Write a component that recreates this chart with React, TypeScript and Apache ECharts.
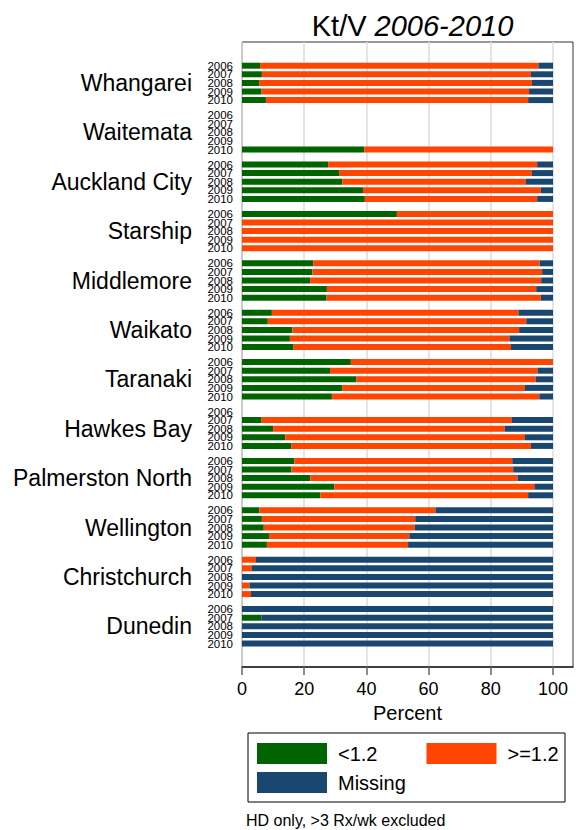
import React, { useEffect, useRef } from "react";
import * as echarts from "echarts";

const years = ["2006", "2007", "2008", "2009", "2010"];
const units = [
  "Whangarei", "Waitemata", "Auckland City", "Starship", "Middlemore", "Waikato",
  "Taranaki", "Hawkes Bay", "Palmerston North", "Wellington", "Christchurch", "Dunedin",
];
// share of patients with Kt/V < 1.2 (percent)
const below12 = [
  [5.8, 6.4, 5.5, 6.3, 7.7],
  [null, null, null, null, 39.3],
  [27.7, 31.2, 32.2, 38.9, 39.5],
  [49.8, 0, 0, 0, 0],
  [22.9, 22.6, 21.9, 27.3, 27.2],
  [9.6, 8.3, 16.2, 15.4, 16.6],
  [35.0, 28.3, 36.7, 32.2, 28.9],
  [null, 6.3, 10.0, 13.9, 15.8],
  [16.8, 15.9, 22.0, 29.7, 25.2],
  [5.6, 6.4, 7.0, 8.7, 8.0],
  [0, 0, 0, 0, 0],
  [0, 6.2, 0, 0, 0],
];
// share with Kt/V >= 1.2
const atLeast12 = [
  [89.5, 86.5, 87.7, 86.0, 84.3],
  [null, null, null, null, 60.7],
  [67.2, 62.0, 59.1, 57.2, 55.4],
  [50.2, 100, 100, 100, 100],
  [72.8, 73.9, 74.3, 67.3, 68.9],
  [79.3, 83.1, 72.9, 70.6, 69.9],
  [65.0, 66.8, 57.7, 58.8, 66.7],
  [null, 80.5, 74.5, 77.1, 77.1],
  [70.1, 71.3, 66.6, 64.3, 66.8],
  [56.6, 49.3, 48.5, 45.1, 45.4],
  [4.5, 3.2, 0, 2.4, 2.9],
  [0, 0, 0, 0, 0],
];
// share missing
const missing = [
  [4.7, 7.1, 6.8, 7.7, 8.0],
  [null, null, null, null, 0],
  [5.1, 6.8, 8.7, 3.9, 5.1],
  [0, 0, 0, 0, 0],
  [4.3, 3.5, 3.8, 5.4, 3.9],
  [11.1, 8.6, 10.9, 14.0, 13.5],
  [0, 4.9, 5.6, 9.0, 4.4],
  [null, 13.2, 15.5, 9.0, 7.1],
  [13.1, 12.8, 11.4, 6.0, 8.0],
  [37.8, 44.3, 44.5, 46.2, 46.6],
  [95.5, 96.8, 100, 97.6, 97.1],
  [100, 93.8, 100, 100, 100],
];
const xTicks = [0, 20, 40, 60, 80, 100];
const seriesNames = ["<1.2", ">=1.2", "Missing"];
const colors = ["#006400", "#FF4500", "#1A476F"];

const FONT = "'Liberation Sans', Arial, Helvetica, sans-serif";

export default function App() {
  const ref = useRef<HTMLDivElement>(null);
  useEffect(() => {
    if (!ref.current) return;
    const chart = echarts.init(ref.current, undefined, { renderer: "svg" });

    const plotLeft = 242;
    const plotRight = 573;
    const plotTop = 42;
    const plotBottom = 667;
    const x100 = 553;
    const groupStep = 49.4;
    const band = 8.6;
    const firstTop = 61.4;

    const grids: any[] = [];
    const xAxes: any[] = [];
    const yAxes: any[] = [];
    const series: any[] = [];

    units.forEach((u, g) => {
      grids.push({
        left: plotLeft,
        width: x100 - plotLeft,
        top: firstTop + g * groupStep,
        height: band * 5,
        containLabel: false,
      });
      xAxes.push({ type: "value", gridIndex: g, min: 0, max: 100, show: false });
      yAxes.push({
        type: "category",
        gridIndex: g,
        data: years,
        inverse: true,
        axisLine: { show: false },
        axisTick: { show: false },
        splitLine: { show: false },
        axisLabel: {
          interval: 0,
          fontSize: 11.5,
          lineHeight: 9,
          color: "#000",
          margin: 9,
          fontFamily: FONT,
        },
        name: u,
        nameLocation: "middle",
        nameRotate: 0,
        nameGap: 50,
        nameTextStyle: {
          fontSize: 23,
          color: "#000",
          fontFamily: FONT,
          align: "right",
          verticalAlign: "middle",
        },
      });
      const sets = [below12[g], atLeast12[g], missing[g]];
      sets.forEach((d, k) => {
        series.push({
          type: "bar",
          name: seriesNames[k],
          xAxisIndex: g,
          yAxisIndex: g,
          stack: "s" + g,
          data: d,
          barWidth: 6,
          itemStyle: { color: colors[k] },
          z: 3,
        });
      });
    });

    // background frame grid with the percent axis
    const bg = units.length;
    grids.push({
      left: plotLeft,
      top: plotTop,
      width: plotRight - plotLeft,
      height: plotBottom - plotTop,
      show: true,
      borderColor: "#333",
      borderWidth: 1,
      backgroundColor: "transparent",
    });
    xAxes.push({
      type: "value",
      gridIndex: bg,
      min: 0,
      max: ((plotRight - plotLeft) / (x100 - plotLeft)) * 100,
      interval: 20,
      axisLine: { show: true, lineStyle: { color: "#222", width: 1.5 } },
      axisTick: {
        show: true,
        customValues: xTicks,
        length: 8,
        lineStyle: { color: "#666", width: 1.5 },
      },
      axisLabel: {
        customValues: xTicks,
        fontSize: 18,
        color: "#000",
        margin: 13,
        fontFamily: FONT,
      },
      splitLine: { show: true, lineStyle: { color: "#dcdcdc", width: 1.5 } },
      name: "Percent",
      nameLocation: "middle",
      nameGap: 35,
      nameTextStyle: { fontSize: 20, color: "#000", fontFamily: FONT },
    });
    yAxes.push({ type: "value", gridIndex: bg, show: false, min: 0, max: 1 });
    series.push({
      type: "line",
      xAxisIndex: bg,
      yAxisIndex: bg,
      data: [],
      silent: true,
    });

    const option: any = {
      animation: false,
      textStyle: { fontFamily: FONT },
      title: {
        text: "{a|Kt/V }{b|2006-2010}",
        left: (plotLeft + plotRight) / 2,
        textAlign: "center",
        top: 6,
        textStyle: {
          fontWeight: "normal",
          rich: {
            a: { fontSize: 29, color: "#000", fontWeight: "normal", fontFamily: FONT },
            b: {
              fontSize: 29,
              color: "#000",
              fontWeight: "normal",
              fontStyle: "italic",
              fontFamily: FONT,
            },
          },
        },
      },
      legend: [
        {
          data: ["<1.2", ">=1.2"],
          left: 257,
          top: 743,
          padding: 0,
          itemWidth: 70,
          itemHeight: 21,
          itemGap: 49,
          icon: "rect",
          selectedMode: false,
          textStyle: { fontSize: 20, color: "#000", fontFamily: FONT, padding: [0, 0, 0, 6] },
        },
        {
          data: ["Missing"],
          left: 257,
          top: 772,
          padding: 0,
          itemWidth: 70,
          itemHeight: 21,
          icon: "rect",
          selectedMode: false,
          textStyle: { fontSize: 20, color: "#000", fontFamily: FONT, padding: [0, 0, 0, 6] },
        },
      ],
      grid: grids,
      xAxis: xAxes,
      yAxis: yAxes,
      series,
      graphic: [
        {
          type: "rect",
          shape: { x: 248, y: 733, width: 317, height: 69 },
          style: { fill: "none", stroke: "#000", lineWidth: 1 },
          silent: true,
        },
        {
          type: "text",
          x: 246,
          y: 820,
          style: {
            text: "HD only, >3 Rx/wk excluded",
            fontSize: 16,
            fill: "#000",
            fontFamily: FONT,
            verticalAlign: "middle",
          },
        },
      ],
    };
    chart.setOption(option);
    return () => chart.dispose();
  }, []);
  return (
    <div
      ref={ref}
      style={{ position: "fixed", left: 0, top: 0, width: 576, height: 830, background: "#fff" }}
    />
  );
}
